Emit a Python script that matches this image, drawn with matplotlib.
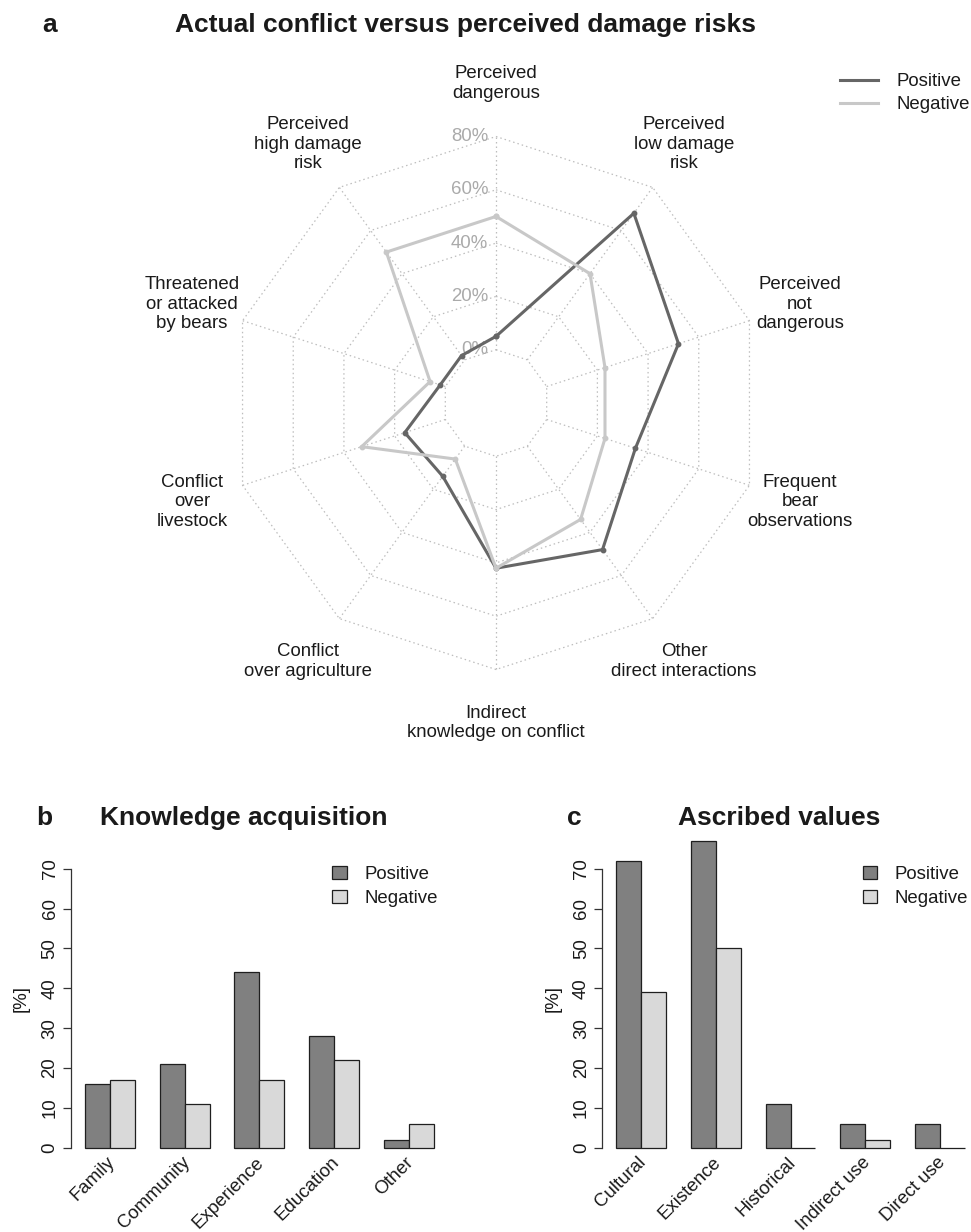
import numpy as np
import matplotlib
matplotlib.use("Agg")
import matplotlib.pyplot as plt
from matplotlib.patches import Rectangle
from matplotlib.lines import Line2D

plt.rcParams['font.family'] = ['Liberation Sans', 'DejaVu Sans']

W, H, DPI = 971, 1232, 100

# ---- panel a: radar of conflict experience vs perceived risk (percent) ----
radar_labels = [
    "Perceived\ndangerous",
    "Perceived\nlow damage\nrisk",
    "Perceived\nnot\ndangerous",
    "Frequent\nbear\nobservations",
    "Other\ndirect interactions",
    "Indirect\nknowledge on conflict",
    "Conflict\nover agriculture",
    "Conflict\nover\nlivestock",
    "Threatened\nor attacked\nby bears",
    "Perceived\nhigh damage\nrisk",
]
radar_positive = [5, 68, 52, 35, 48, 42, 14, 16, 2, 2]
radar_negative = [50, 40, 23, 23, 34, 42, 6, 33, 6, 50]
radar_ticks = [0, 20, 40, 60, 80]
series_names = ["Positive", "Negative"]

# ---- panel b: knowledge acquisition (percent) ----
knowledge_cats = ["Family", "Community", "Experience", "Education", "Other"]
knowledge_pos = [16, 21, 44, 28, 2]
knowledge_neg = [17, 11, 17, 22, 6]

# ---- panel c: ascribed values (percent) ----
value_cats = ["Cultural", "Existence", "Historical", "Indirect use", "Direct use"]
value_pos = [72, 77, 11, 6, 6]
value_neg = [39, 50, 0, 2, 0]

bar_yticks = [0, 10, 20, 30, 40, 50, 60, 70]

LINE_POS, LINE_NEG = "#666666", "#c8c8c8"
BAR_POS, BAR_NEG = "#808080", "#d9d9d9"
GRID_COL = "#bdbdbd"
FS = 13.4
FS_TITLE = 19


def frac_rect(x0, y0, x1, y1):
    """Pixel box (top-left origin) -> figure-fraction rect."""
    return [x0 / W, 1 - y1 / H, (x1 - x0) / W, (y1 - y0) / H]


def fx(x):
    return x / W


def fy(y):
    return 1 - y / H


fig = plt.figure(figsize=(W / DPI, H / DPI), dpi=DPI)

# ================= panel a =================
cx, cy, R = 496.0, 403.0, 266.5
ax_a = fig.add_axes(frac_rect(0, 40, W, 800))
ax_a.set_xlim((0 - cx) / R, (W - cx) / R)
ax_a.set_ylim((cy - 800) / R, (cy - 40) / R)
ax_a.axis("off")

n = len(radar_labels)
theta = np.arange(n) * 2 * np.pi / n
sx, sy = np.sin(theta), np.cos(theta)
n_seg = len(radar_ticks) - 1
vmax = radar_ticks[-1]


def to_radius(v):
    return (1 + np.asarray(v, dtype=float) / vmax * n_seg) / (n_seg + 1)


grid_ls = (0, (1.2, 2.4))
for t in radar_ticks:
    r = to_radius(t)
    ax_a.plot(np.append(sx, sx[0]) * r, np.append(sy, sy[0]) * r,
              color=GRID_COL, lw=0.9, ls=grid_ls, zorder=1)
    ax_a.text(-8 / R, r, f"{t}%", color="#aaaaaa", fontsize=FS,
              ha="right", va="center", zorder=2)
r0, r1 = to_radius(radar_ticks[0]), to_radius(radar_ticks[-1])
for i in range(n):
    ax_a.plot([sx[i] * r0, sx[i] * r1], [sy[i] * r0, sy[i] * r1],
              color=GRID_COL, lw=0.9, ls=grid_ls, zorder=1)

for vals, col in [(radar_positive, LINE_POS), (radar_negative, LINE_NEG)]:
    r = to_radius(vals)
    ax_a.plot(np.append(sx * r, sx[0] * r[0]), np.append(sy * r, sy[0] * r[0]),
              color=col, lw=2.2, marker="o", ms=3.2, zorder=3,
              solid_joinstyle="miter")

for i, lab in enumerate(radar_labels):
    ax_a.text(sx[i] * 1.2, sy[i] * 1.2, lab, fontsize=FS, ha="center",
              va="center", multialignment="center", linespacing=1.2,
              color="#1a1a1a")

# legend for panel a
for k, (name, col) in enumerate(zip(series_names, [LINE_POS, LINE_NEG])):
    yy = 80 + k * 22.7
    fig.add_artist(Line2D([fx(840), fx(878)], [fy(yy), fy(yy)], color=col,
                          lw=2.2, transform=fig.transFigure))
    fig.text(fx(896), fy(yy), name, fontsize=FS, ha="left",
             va="center_baseline", color="#1a1a1a")

fig.text(fx(42), fy(32), "a", fontsize=FS_TITLE, fontweight="bold",
         ha="left", va="baseline", color="#1a1a1a")
fig.text(fx(465), fy(32), "Actual conflict versus perceived damage risks",
         fontsize=FS_TITLE, fontweight="bold", ha="center", va="baseline",
         color="#1a1a1a")

# ================= panels b and c =================
px_unit = 24.9
px_val = 3.986
y0_px = 1147.7
ylo, yhi = -2.8, 80.0


def bar_panel(left_px, cats, pos, neg, letter, letter_x, title, title_x,
              leg_x):
    xlo, xhi = 0.44, 15.56
    right_px = left_px + (xhi - xlo) * px_unit
    top_px = y0_px - yhi * px_val
    bot_px = y0_px - ylo * px_val
    ax = fig.add_axes(frac_rect(left_px, top_px, right_px, bot_px))
    ax.set_xlim(xlo, xhi)
    ax.set_ylim(ylo, yhi)
    ax.patch.set_visible(False)

    g = np.arange(len(cats))
    ax.bar(1.5 + 3 * g, pos, width=1.0, color=BAR_POS, edgecolor="#1f1f1f",
           linewidth=0.9, clip_on=False)
    ax.bar(2.5 + 3 * g, neg, width=1.0, color=BAR_NEG, edgecolor="#1f1f1f",
           linewidth=0.9, clip_on=False)

    for s in ["top", "right", "bottom"]:
        ax.spines[s].set_visible(False)
    ax.spines["left"].set_bounds(bar_yticks[0], bar_yticks[-1])
    ax.spines["left"].set_color("#333333")
    ax.spines["left"].set_linewidth(0.9)
    ax.set_xticks([])
    ax.set_yticks(bar_yticks)
    ax.set_yticklabels([str(t) for t in bar_yticks], rotation=90,
                       va="center", fontsize=FS, color="#1a1a1a")
    ax.tick_params(axis="y", length=5.5, width=0.9, color="#333333", pad=3.5)

    for gi, c in zip(g, cats):
        ax.text(2.1 + 3 * gi, -3.0, c, rotation=45, rotation_mode="anchor",
                ha="right", va="center", fontsize=FS, color="#1a1a1a",
                clip_on=False)

    fig.text(fx(left_px - 49.5), fy(998), "[%]", rotation=90, fontsize=FS,
             ha="center", va="center", color="#1a1a1a")

    for k, (name, col) in enumerate(zip(series_names, [BAR_POS, BAR_NEG])):
        yy = 872.7 + k * 24
        fig.add_artist(Rectangle((fx(leg_x), fy(yy + 6.5)), 14.5 / W,
                                 13 / H, facecolor=col, edgecolor="#1f1f1f",
                                 lw=0.9, transform=fig.transFigure))
        fig.text(fx(leg_x + 32), fy(yy), name, fontsize=FS, ha="left",
                 va="center_baseline", color="#1a1a1a")

    fig.text(fx(letter_x), fy(825), letter, fontsize=FS_TITLE,
             fontweight="bold", ha="left", va="baseline", color="#1a1a1a")
    fig.text(fx(title_x), fy(825), title, fontsize=FS_TITLE,
             fontweight="bold", ha="center", va="baseline", color="#1a1a1a")
    return ax


bar_panel(71.06, knowledge_cats, knowledge_pos, knowledge_neg,
          "b", 36, "Knowledge acquisition", 244, 332)
bar_panel(602.3, value_cats, value_pos, value_neg,
          "c", 567, "Ascribed values", 779, 862.5)

fig.savefig("out.png", dpi=DPI)
